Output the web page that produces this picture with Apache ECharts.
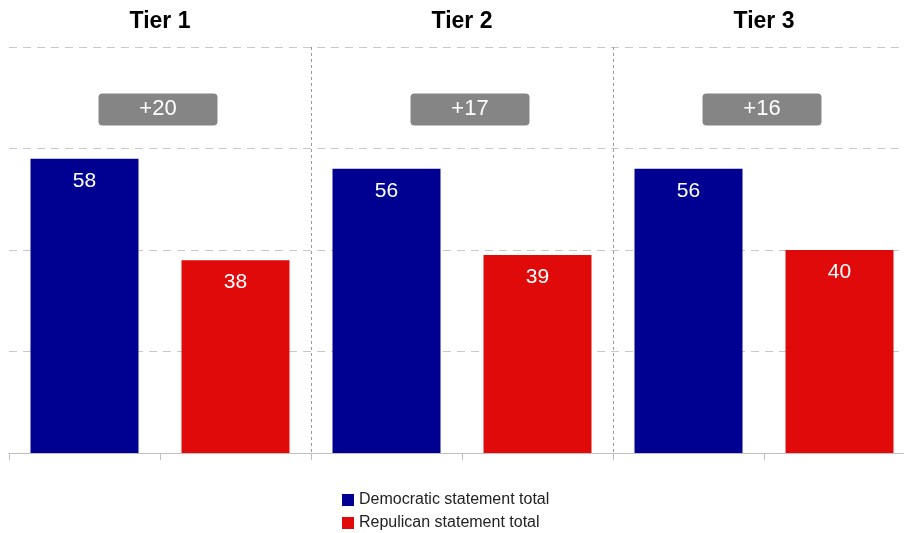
<!DOCTYPE html>
<html><head><meta charset="utf-8">
<script src="https://cdn.jsdelivr.net/npm/echarts@6/dist/echarts.min.js"></script>
<style>html,body{margin:0;padding:0;background:#fff}#c{width:904px;height:533px}</style>
</head><body><div id="c"></div>
<script>
const tiers = ['Tier 1', 'Tier 2', 'Tier 3'];
const barSlots = ['T1 Dem', 'T1 Rep', 'T2 Dem', 'T2 Rep', 'T3 Dem', 'T3 Rep'];
const demValues = [58, '-', 56, '-', 56, '-'];
const repValues = ['-', 38, '-', 39, '-', 40];
const gapLabels = ['+20', '+17', '+16'];
const gapBadgeLevel = [67.7, 67.7, 67.7];

const FONT = '"Liberation Sans", Arial, sans-serif';
const chart = echarts.init(document.getElementById('c'), null, {renderer: 'canvas'});
chart.setOption({
  animation: false,
  textStyle: {fontFamily: FONT},
  grid: {left: 9, top: 47, right: -11, bottom: 80, containLabel: false, outerBoundsMode: 'none'},
  xAxis: [{
    type: 'category', data: barSlots, position: 'bottom',
    axisLine: {lineStyle: {color: '#bfbfbf', width: 1}},
    axisTick: {show: true, alignWithLabel: false, length: 7, lineStyle: {color: '#bfbfbf'}},
    axisLabel: {show: false}, splitLine: {show: false}
  }, {
    type: 'category', data: tiers, position: 'top',
    axisLine: {show: false}, axisTick: {show: false},
    axisLabel: {show: true, margin: 14, fontSize: 23, fontWeight: 'bold', color: '#000', fontFamily: FONT},
    splitLine: {show: true, showMinLine: false, showMaxLine: false,
      lineStyle: {color: '#999999', type: [3, 3], width: 1}}
  }],
  yAxis: {
    type: 'value', min: 0, max: 80, interval: 20,
    axisLine: {show: false}, axisTick: {show: false}, axisLabel: {show: false},
    splitLine: {show: true, showMinLine: false, lineStyle: {color: '#c8c8c8', type: [8, 6], width: 1}}
  },
  legend: {
    orient: 'vertical', left: 342, top: 492, padding: 0, itemWidth: 12, itemHeight: 12, itemGap: 7,
    icon: 'rect', textStyle: {fontSize: 16, color: '#222', fontFamily: FONT},
    data: ['Democratic statement total', 'Repulican statement total']
  },
  series: [{
    name: 'Democratic statement total', type: 'bar', xAxisIndex: 0, data: demValues,
    barWidth: 108, barGap: '-100%', itemStyle: {color: '#000091'},
    label: {show: true, position: 'insideTop', distance: 12, color: '#fff', fontSize: 21, fontFamily: FONT}
  }, {
    name: 'Repulican statement total', type: 'bar', xAxisIndex: 0, data: repValues,
    barWidth: 108, barGap: '-100%', itemStyle: {color: '#e00a0a'},
    label: {show: true, position: 'inside', distance: 12, color: '#fff', fontSize: 21, fontFamily: FONT,
      position: 'insideTop'}
  }, {
    name: 'gap', type: 'scatter', xAxisIndex: 1,
    data: gapBadgeLevel.map((v, i) => ({value: v, label: {formatter: gapLabels[i], offset: i === 1 ? [8, 0] : [-2, 0]}})),
    symbolSize: 0, itemStyle: {color: '#858585', opacity: 1},
    label: {show: true, position: 'inside', color: '#fff', fontSize: 22, fontFamily: FONT,
      backgroundColor: '#858585', borderRadius: 4, width: 119, height: 32, lineHeight: 32,
      align: 'center', verticalAlign: 'middle'},
    z: 5, silent: true
  }]
});
</script></body></html>
